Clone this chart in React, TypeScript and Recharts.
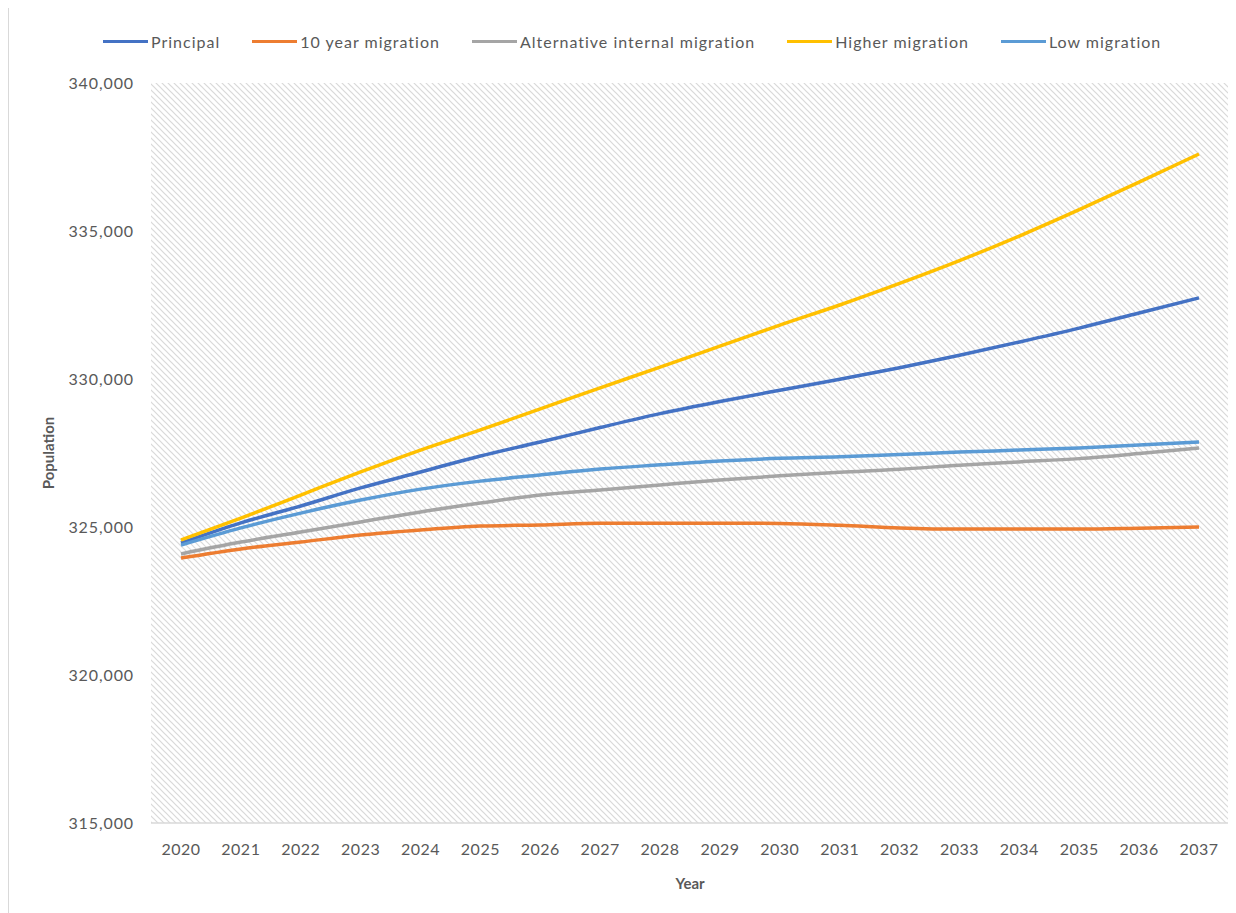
import React from "react";
import { LineChart, Line, XAxis, YAxis, CartesianGrid, Legend } from "recharts";

const years = [
  "2020", "2021", "2022", "2023", "2024", "2025", "2026", "2027", "2028",
  "2029", "2030", "2031", "2032", "2033", "2034", "2035", "2036", "2037",
];

const principal = [
  324460, 325140, 325710, 326320, 326860, 327400, 327870, 328360, 328830,
  329240, 329620, 329990, 330380, 330800, 331250, 331720, 332230, 332740,
];
const tenYear = [
  323950, 324260, 324490, 324730, 324900, 325030, 325070, 325130, 325130,
  325130, 325120, 325060, 324970, 324930, 324930, 324930, 324960, 325000,
];
const altInternal = [
  324090, 324490, 324830, 325170, 325510, 325810, 326080, 326250, 326420,
  326590, 326730, 326850, 326950, 327090, 327200, 327310, 327480, 327670,
];
const higher = [
  324560, 325300, 326080, 326860, 327600, 328280, 328990, 329700, 330400,
  331110, 331820, 332500, 333230, 334000, 334830, 335720, 336650, 337600,
];
const low = [
  324390, 324970, 325470, 325910, 326280, 326550, 326760, 326960, 327100,
  327230, 327320, 327370, 327450, 327530, 327600, 327670, 327770, 327870,
];

const yTicks = [315000, 320000, 325000, 330000, 335000, 340000];

const series = [
  { key: "principal", name: "Principal", color: "#4472C4" },
  { key: "tenYear", name: "10 year migration", color: "#ED7D31" },
  { key: "altInternal", name: "Alternative internal migration", color: "#A5A5A5" },
  { key: "higher", name: "Higher migration", color: "#FFC000" },
  { key: "low", name: "Low migration", color: "#5B9BD5" },
];

const data = years.map((year, i) => ({
  year,
  principal: principal[i],
  tenYear: tenYear[i],
  altInternal: altInternal[i],
  higher: higher[i],
  low: low[i],
}));

const font = "Lato, 'Open Sans', sans-serif";
const textColor = "#595959";

function LegendContent() {
  return (
    <div
      style={{
        display: "flex",
        justifyContent: "flex-start",
        alignItems: "center",
        height: 30,
        fontFamily: font,
        fontSize: 16,
        letterSpacing: 1,
        color: textColor,
        paddingLeft: 94,
      }}
    >
      {series.map((s) => (
        <div key={s.key} style={{ display: "flex", alignItems: "center", marginRight: 32 }}>
          <span
            style={{
              display: "inline-block",
              width: 45,
              height: 3,
              background: s.color,
              marginRight: 3,
            }}
          />
          <span>{s.name}</span>
        </div>
      ))}
    </div>
  );
}

export default function App() {
  return (
    <div style={{ borderLeft: "1px solid #d9d9d9", width: 1228, height: 905 }}>
      <LineChart
        width={1228}
        height={900}
        data={data}
        margin={{ top: 45, right: 8, left: 0, bottom: 0 }}
      >
        <defs>
          <pattern id="hatch" width="6" height="6" patternUnits="userSpaceOnUse">
            <rect width="6" height="6" fill="#ffffff" />
            <path d="M-1,-1 L7,7 M-1,5 L1,7 M5,-1 L7,1" stroke="#d9d9d9" strokeWidth={1.2} />
          </pattern>
        </defs>
        <CartesianGrid fill="url(#hatch)" horizontal={false} vertical={false} />
        <Legend
          verticalAlign="top"
          content={() => <LegendContent />}
          wrapperStyle={{ top: 18, left: 0, width: 1228 }}
        />
        <XAxis
          dataKey="year"
          height={85}
          padding={{ left: 30, right: 30 }}
          axisLine={{ stroke: "#d9d9d9", strokeWidth: 1.5 }}
          tickLine={false}
          tickSize={0}
          tickMargin={21}
          tick={{ fill: textColor, fontSize: 16, fontFamily: font, letterSpacing: 0.5 }}
          interval={0}
          label={{
            value: "Year",
            position: "insideBottom",
            offset: 19,
            fill: textColor,
            fontSize: 15,
            fontWeight: 700,
            fontFamily: font,
          }}
        />
        <YAxis
          width={142}
          domain={[315000, 340000]}
          ticks={yTicks}
          axisLine={false}
          tickLine={false}
          tickSize={0}
          tickMargin={17}
          tickFormatter={(v: number) => v.toLocaleString("en-US")}
          tick={{ fill: textColor, fontSize: 16, fontFamily: font, letterSpacing: 0.9 }}
          label={{
            value: "Population",
            angle: -90,
            position: "insideLeft",
            offset: 40,
            fill: textColor,
            fontSize: 15,
            fontWeight: 700,
            fontFamily: font,
            style: { textAnchor: "middle" },
          }}
        />
        {series.map((s) => (
          <Line
            key={s.key}
            type="monotone"
            dataKey={s.key}
            name={s.name}
            stroke={s.color}
            strokeWidth={3.5}
            dot={false}
            isAnimationActive={false}
          />
        ))}
      </LineChart>
    </div>
  );
}
